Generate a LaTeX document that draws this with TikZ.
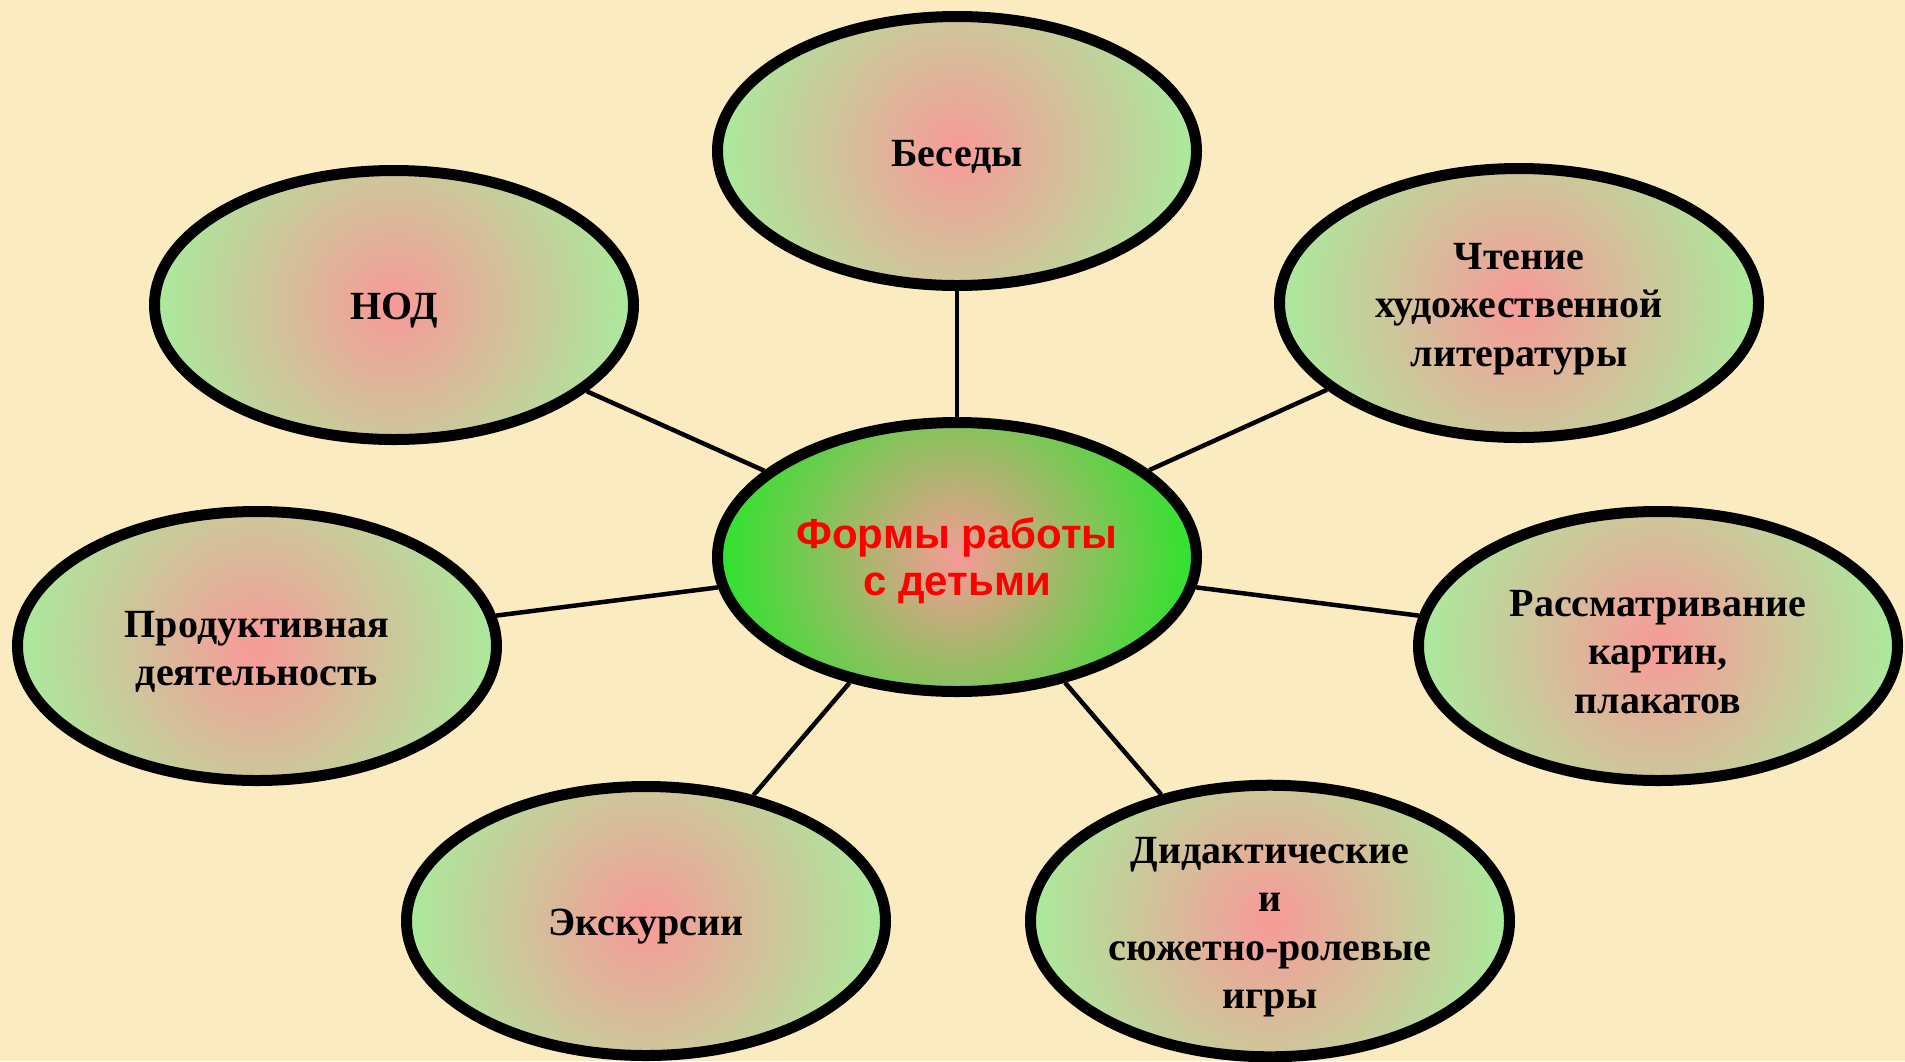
\documentclass[tikz,border=0pt]{standalone}
\usepackage{fontspec}
\setmainfont{Liberation Serif}
\newfontfamily\hubfont{Liberation Sans}
\usetikzlibrary{shapes.geometric}
\definecolor{bgcol}{HTML}{FBEBC1}
\definecolor{opink}{HTML}{F89A98}
\definecolor{ogreen}{HTML}{A8EC9C}
\definecolor{cpink}{HTML}{F59A96}
\definecolor{cgreen}{HTML}{2AE52A}
\pgfdeclareradialshading{outershade}{\pgfpointorigin}{color(0bp)=(opink); color(25bp)=(ogreen); color(50bp)=(ogreen)}
\pgfdeclareradialshading{centershade}{\pgfpointorigin}{color(0bp)=(cpink); color(25bp)=(cgreen); color(50bp)=(cgreen)}
\newcommand\topstrut{\rule{0pt}{38pt}}
\tikzset{
  ovalbase/.style={ellipse, draw=black, line width=11pt, minimum width=479pt,
    minimum height=269pt, inner sep=0pt, align=center},
  blob/.style={ovalbase, font=\fontsize{40}{48.5}\selectfont\bfseries,
    path picture={\shade[shading=outershade] (path picture bounding box.center) circle[radius=244pt];}},
  hub/.style={ovalbase, font=\hubfont\fontsize{42}{47}\selectfont\bfseries, text=red,
    path picture={\shade[shading=centershade] (path picture bounding box.center) circle[radius=244pt];}},
  link/.style={line width=4.5pt, draw=black}
}
\begin{document}
\begin{tikzpicture}[x=1pt,y=-1pt]
\fill[bgcol] (0,0) rectangle (1905,1061);
\useasboundingbox (0,0) rectangle (1905,1061);
\node[hub] (hub) at (957,557) {\topstrut Формы работы\\с детьми};
\node[blob] (bes) at (957,151) {\topstrut Беседы};
\node[blob] (nod) at (394,305) {\topstrut НОД};
\node[blob] (cht) at (1519,303) {\topstrut Чтение\\художественной\\литературы};
\node[blob] (prod) at (257,646) {\topstrut Продуктивная\\деятельность};
\node[blob] (rass) at (1658,646) {\topstrut Рассматривание\\картин,\\плакатов};
\node[blob] (exc) at (646,921) {\topstrut Экскурсии};
\node[blob] (did) at (1270,921) {\topstrut Дидактические\\и\\сюжетно-ролевые\\игры};
\draw[link] (hub) -- (bes);
\draw[link] (hub) -- (nod);
\draw[link] (hub) -- (cht);
\draw[link] (hub) -- (prod);
\draw[link] (hub) -- (rass);
\draw[link] (hub) -- (exc);
\draw[link] (hub) -- (did);
\end{tikzpicture}
\end{document}
